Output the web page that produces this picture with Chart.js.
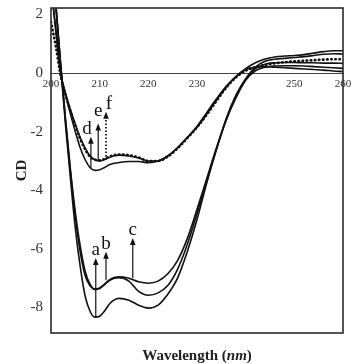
<!DOCTYPE html>
<html>
<head>
<meta charset="utf-8">
<script src="https://cdn.jsdelivr.net/npm/chart.js@4.4.1/dist/chart.umd.min.js"></script>
<style>
  html, body { margin: 0; padding: 0; background: #fff; }
  canvas { display: block; }
</style>
</head>
<body>
<canvas id="cdchart" width="358" height="364"></canvas>
<script>
'use strict';

// wavelength (nm)
const wavelengths = [200, 201, 202, 203, 204, 205, 206, 207, 208, 209, 210, 211, 212, 213, 214, 216, 218, 220, 222,
    224, 226, 228, 230, 232, 234, 236, 238, 240, 242, 244, 246, 248, 250, 252, 254, 256, 258, 260];

// CD readings, one list per sample
const curveA = [4.5, 2.3, 0.2, -1.8, -3.6, -5.3, -6.6, -7.6, -8.12, -8.33, -8.3, -8.12, -7.88, -7.74, -7.69, -7.75, -7.92, -8.02, -7.92,
    -7.55, -7.0, -6.1, -5.0, -3.75, -2.6, -1.55, -0.75, -0.2, 0.2, 0.4, 0.47, 0.5, 0.53, 0.56, 0.6, 0.64, 0.66, 0.65];
const curveB = [4.4, 2.3, 0.25, -1.65, -3.4, -4.9, -6.1, -6.9, -7.25, -7.38, -7.35, -7.22, -7.08, -7.0, -6.98, -7.1, -7.45, -7.58, -7.5,
    -7.25, -6.7, -5.85, -4.8, -3.7, -2.6, -1.6, -0.8, -0.2, 0.15, 0.3, 0.35, 0.36, 0.36, 0.35, 0.35, 0.34, 0.34, 0.33];
const curveC = [4.4, 2.3, 0.3, -1.6, -3.3, -4.75, -5.9, -6.75, -7.2, -7.37, -7.33, -7.2, -7.06, -6.98, -6.95, -7.0, -7.12, -7.17, -7.1,
    -6.85, -6.4, -5.65, -4.65, -3.6, -2.55, -1.6, -0.85, -0.25, 0.08, 0.2, 0.24, 0.25, 0.25, 0.24, 0.22, 0.2, 0.18, 0.16];
const curveD = [3.0, 1.4, -0.05, -0.75, -1.4, -2.0, -2.55, -2.95, -3.22, -3.32, -3.3, -3.22, -3.13, -3.08, -3.05, -3.02, -3.02, -3.06, -3.0,
    -2.83, -2.55, -2.2, -1.82, -1.35, -0.88, -0.45, -0.12, 0.15, 0.35, 0.48, 0.55, 0.58, 0.6, 0.63, 0.68, 0.73, 0.76, 0.76];
const curveE = [2.9, 1.5, 0.0, -0.7, -1.25, -1.75, -2.2, -2.55, -2.82, -2.96, -3.0, -2.95, -2.88, -2.82, -2.8, -2.83, -2.9, -3.0, -3.0,
    -2.83, -2.55, -2.2, -1.85, -1.4, -0.92, -0.48, -0.12, 0.12, 0.2, 0.22, 0.2, 0.18, 0.16, 0.14, 0.12, 0.1, 0.07, 0.05];
const curveF = [1.75, 0.9, -0.1, -0.75, -1.3, -1.8, -2.25, -2.6, -2.85, -2.95, -2.98, -2.93, -2.85, -2.8, -2.78, -2.8, -2.88, -3.0, -3.0,
    -2.85, -2.57, -2.22, -1.85, -1.42, -0.95, -0.5, -0.15, 0.08, 0.2, 0.28, 0.33, 0.37, 0.4, 0.42, 0.44, 0.46, 0.47, 0.47];

const xTicks = [200, 210, 220, 230, 250, 260];
const yTicks = [-8, -6, -4, -2, 0, 2];

// arrows: label, wavelength, from CD, to CD
const arrowLabels = ['a', 'b', 'c', 'd', 'e', 'f'];
const arrowX = [209.2, 211.3, 216.8, 208.2, 209.7, 211.3];
const arrowFrom = [-8.33, -7.07, -7.0, -3.25, -2.97, -2.97];
const arrowTo = [-6.31, -6.1, -5.63, -2.17, -1.72, -1.32];
const arrowDotted = [false, false, false, false, false, true];

const serif = '"Liberation Serif", "Times New Roman", serif';

function toPoints(vals) {
    return wavelengths.map((w, i) => ({ x: w, y: vals[i] }));
}

function line(vals, dotted) {
    let ds = {
        data: toPoints(vals),
        borderColor: '#111',
        borderWidth: 1.6,
        pointRadius: 0,
        fill: false,
        cubicInterpolationMode: 'monotone'
    };
    if (dotted) {
        ds.borderDash = [0.5, 3.6];
        ds.borderCapStyle = 'round';
        ds.borderWidth = 2.6;
    }
    return ds;
}

const cdExtras = {
    id: 'cdExtras',
    afterDatasetsDraw(chart) {
        const ctx = chart.ctx;
        const xs = chart.scales.x;
        const ys = chart.scales.y;
        // small hand nudges so the d/e/f letters don't sit on top of each other
        const nudge = { d: [-4, 0], e: [0, -4], f: [3, 0] };
        ctx.save();
        for (let i = 0; i < arrowLabels.length; i++) {
            let px = xs.getPixelForValue(arrowX[i]);
            let y0 = ys.getPixelForValue(arrowFrom[i]);
            let y1 = ys.getPixelForValue(arrowTo[i]);
            ctx.strokeStyle = '#111';
            ctx.fillStyle = '#111';
            ctx.lineWidth = arrowDotted[i] ? 1.8 : 1.2;
            ctx.setLineDash(arrowDotted[i] ? [1.5, 2] : []);
            ctx.beginPath();
            ctx.moveTo(px, y0);
            ctx.lineTo(px, y1 + 5);
            ctx.stroke();
            ctx.setLineDash([]);
            ctx.beginPath();
            ctx.moveTo(px, y1);
            ctx.lineTo(px - 2.8, y1 + 7);
            ctx.lineTo(px + 2.8, y1 + 7);
            ctx.closePath();
            ctx.fill();
            let n = nudge[arrowLabels[i]] || [0, 0];
            ctx.font = '19px ' + serif;
            ctx.textAlign = 'center';
            ctx.textBaseline = 'alphabetic';
            ctx.fillText(arrowLabels[i], px + n[0], y1 - 3 + n[1]);
        }
        ctx.restore();
    },
    afterDraw(chart) {
        const ctx = chart.ctx;
        const a = chart.chartArea;
        ctx.save();
        ctx.strokeStyle = '#2a2a2a';
        ctx.lineWidth = 1.6;
        ctx.strokeRect(a.left, a.top, a.right - a.left, a.bottom - a.top);

        // x title with italic unit
        const parts = [
            ['bold 15px ' + serif, 'Wavelength ('],
            ['italic bold 15px ' + serif, 'nm'],
            ['bold 15px ' + serif, ')']
        ];
        let total = 0;
        parts.forEach(p => { ctx.font = p[0]; total += ctx.measureText(p[1]).width; });
        let x = (a.left + a.right) / 2 - total / 2;
        ctx.fillStyle = '#222';
        ctx.textBaseline = 'alphabetic';
        ctx.textAlign = 'left';
        parts.forEach(p => {
            ctx.font = p[0];
            ctx.fillText(p[1], x, 360);
            x += ctx.measureText(p[1]).width;
        });
        ctx.restore();
    }
};

const config = {
    type: 'line',
    data: {
        datasets: [
            line(curveA), line(curveB), line(curveC),
            line(curveD), line(curveE), line(curveF, true)
        ]
    },
    options: {
        responsive: false,
        animation: false,
        layout: { padding: { top: 8, right: 15, bottom: 31, left: 0 } },
        plugins: { legend: { display: false }, tooltip: { enabled: false } },
        scales: {
            x: {
                type: 'linear',
                position: { y: 0 },
                min: 200,
                max: 260,
                afterBuildTicks: (s) => { s.ticks = xTicks.map(v => ({ value: v })); },
                afterFit: (s) => { s.paddingTop = 0; s.paddingBottom = 0; },
                grid: { display: false, drawTicks: false },
                border: { display: true, color: '#444', width: 1 },
                ticks: {
                    padding: 4,
                    maxRotation: 0,
                    color: '#333',
                    font: { family: serif, size: 11 }
                }
            },
            y: {
                position: 'left',
                min: -8.87,
                max: 2.22,
                afterBuildTicks: (s) => { s.ticks = yTicks.map(v => ({ value: v })); },
                afterFit: (s) => { s.width = 51; s.paddingTop = 0; s.paddingBottom = 0; },
                grid: { display: false, drawTicks: false },
                border: { display: false },
                ticks: {
                    padding: 8,
                    color: '#333',
                    font: { family: serif, size: 15 }
                },
                title: {
                    display: true,
                    text: 'CD',
                    color: '#222',
                    padding: { top: 13 },
                    font: { family: serif, size: 15, weight: 'bold' }
                }
            }
        }
    },
    plugins: [cdExtras]
};

var cdchart = new Chart(document.getElementById('cdchart'), config);
</script>
</body>
</html>
